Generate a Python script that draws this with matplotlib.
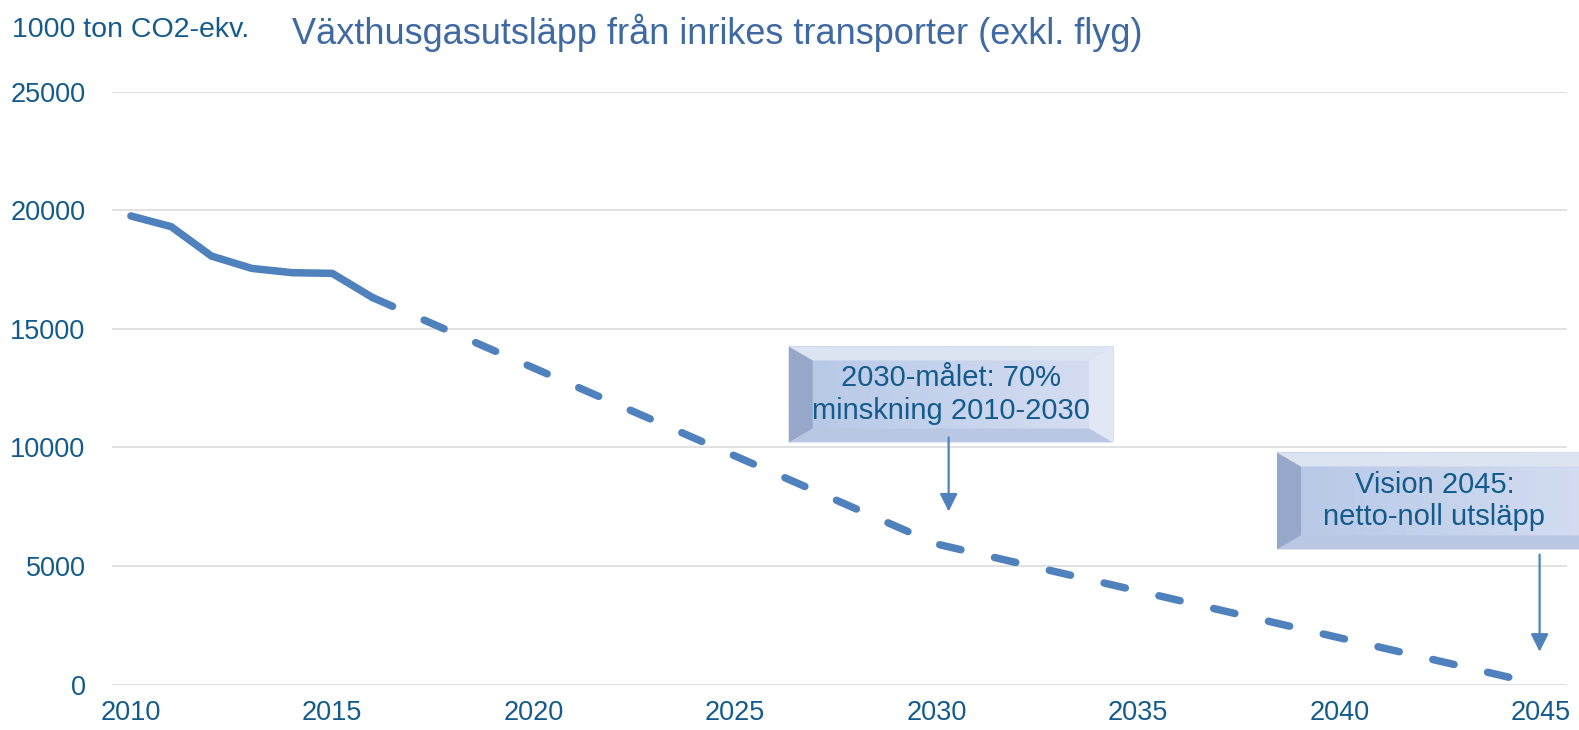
import numpy as np
import matplotlib
matplotlib.use("Agg")
import matplotlib.pyplot as plt
from matplotlib.patches import Polygon, Rectangle
from matplotlib.transforms import IdentityTransform

# historical emissions (1000 ton CO2-ekv.)
years_hist = [2010, 2011, 2012, 2013, 2014, 2015, 2016]
emis_hist = [19760, 19310, 18070, 17550, 17370, 17340, 16320]

# target path
years_goal = [2016, 2030, 2045]
emis_goal = [16320, 5930, 0]

y_ticks = [0, 5000, 10000, 15000, 20000, 25000]
x_ticks = [2010, 2015, 2020, 2025, 2030, 2035, 2040, 2045]

title = "Växthusgasutsläpp från inrikes transporter (exkl. flyg)"
unit = "1000 ton CO2-ekv."
note1 = "2030-målet: 70%\nminskning 2010-2030"
note2 = "Vision 2045:\nnetto-noll utsläpp"

LINE = "#4F81BD"
TXT = "#135B8C"
TITLE = "#3F69A3"

plt.rcParams["font.family"] = ["Liberation Sans", "DejaVu Sans"]

fig = plt.figure(figsize=(15.79, 7.30), dpi=100)
ax = fig.add_axes([0.0709, 0.0621, 0.9215, 0.8123])

ax.plot(years_hist, emis_hist, color=LINE, lw=5.4, solid_capstyle="round",
        solid_joinstyle="round", clip_on=False, zorder=3)
ax.plot(years_goal, emis_goal, color=LINE, lw=5.4, dashes=(2.9, 4.6),
        dash_capstyle="round", clip_on=False, zorder=3)

ax.set_xlim(2009.53, 2045.65)
ax.set_ylim(0, 25000)
ax.set_yticks(y_ticks)
ax.set_xticks(x_ticks)
ax.grid(axis="y", color="#D9D9D9", lw=1.1)
ax.set_axisbelow(True)
for s in ax.spines.values():
    s.set_visible(False)
ax.tick_params(axis="y", length=0, pad=19, labelsize=19.5, labelcolor=TXT)
ax.tick_params(axis="x", length=0, pad=11, labelsize=19.5, labelcolor=TXT)

fig.text(12 / 1579, 1 - 30 / 730, unit, fontsize=20.5, color=TXT,
         ha="left", va="center")
fig.text(292 / 1579, 1 - 33 / 730, title, fontsize=26, color=TITLE,
         ha="left", va="center")


def bevel_box(x0, x1, y0, y1, text, tx=None):
    # corners in data coords -> pixels
    (px0, py0) = ax.transData.transform((x0, y0))
    (px1, py1) = ax.transData.transform((x1, y1))
    tr = IdentityTransform()
    bx, by = 24, 14
    n = 40
    c_left = np.array([0.71, 0.78, 0.90])
    c_right = np.array([0.84, 0.87, 0.95])
    w = (px1 - px0) / n
    for i in range(n):
        f = i / (n - 1)
        c = c_left * (1 - f) + c_right * f
        ax.add_patch(Rectangle((px0 + i * w, py0), w + 0.6, py1 - py0,
                               transform=tr, facecolor=c, edgecolor="none",
                               clip_on=False, zorder=4))
    # bevel sides
    ax.add_patch(Polygon([(px0, py0), (px0 + bx, py0 + by), (px0 + bx, py1 - by), (px0, py1)],
                         transform=tr, facecolor="#97A7C9", edgecolor="none",
                         clip_on=False, zorder=5))
    ax.add_patch(Polygon([(px0, py1), (px0 + bx, py1 - by), (px1 - bx, py1 - by), (px1, py1)],
                         transform=tr, facecolor="#DCE3F1", edgecolor="none",
                         clip_on=False, zorder=5))
    ax.add_patch(Polygon([(px1, py1), (px1 - bx, py1 - by), (px1 - bx, py0 + by), (px1, py0)],
                         transform=tr, facecolor="#E1E7F4", edgecolor="none",
                         clip_on=False, zorder=5))
    ax.add_patch(Polygon([(px0, py0), (px0 + bx, py0 + by), (px1 - bx, py0 + by), (px1, py0)],
                         transform=tr, facecolor="#BAC7E2", edgecolor="none",
                         clip_on=False, zorder=5))
    if tx is None:
        tx = (x0 + x1) / 2
    ax.text(tx, (y0 + y1) / 2, text, fontsize=21, color=TXT,
            ha="center", va="center", linespacing=1.2, zorder=6)


bevel_box(2026.33, 2034.38, 10210, 14260, note1)
# second box runs past the right edge of the picture
bevel_box(2038.45, 2047.0, 5700, 9790, note2, tx=2042.36)

ax.annotate("", xy=(2030.3, 7300), xytext=(2030.3, 10420),
            arrowprops=dict(arrowstyle="-|>", color=LINE, lw=1.6,
                            mutation_scale=27, shrinkA=0, shrinkB=0),
            zorder=6)
ax.annotate("", xy=(2044.97, 1390), xytext=(2044.97, 5485),
            arrowprops=dict(arrowstyle="-|>", color=LINE, lw=1.6,
                            mutation_scale=27, shrinkA=0, shrinkB=0),
            zorder=6, annotation_clip=False)

fig.savefig("out.png", dpi=100)
